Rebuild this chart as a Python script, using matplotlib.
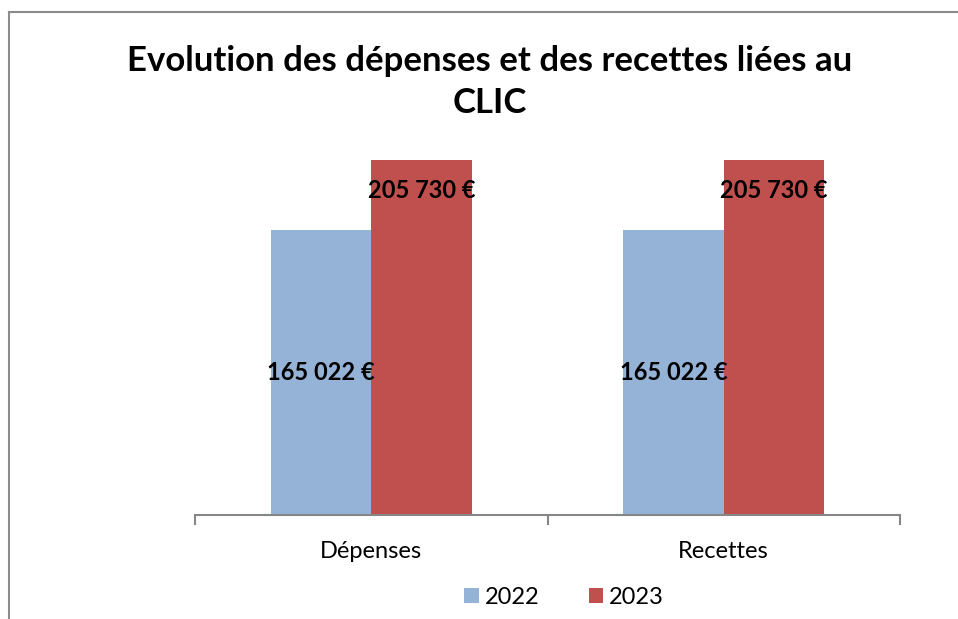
import matplotlib
matplotlib.use("Agg")
import matplotlib.pyplot as plt
from matplotlib.lines import Line2D
from matplotlib.patches import Patch
import numpy as np

categories = ["Dépenses", "Recettes"]
years = ["2022", "2023"]
values_2022 = [165022, 165022]
values_2023 = [205730, 205730]
labels_2022 = ["165 022 €", "165 022 €"]
labels_2023 = ["205 730 €", "205 730 €"]
title = "Evolution des dépenses et des recettes liées au\nCLIC"

c2022 = "#95B3D7"
c2023 = "#C0504D"
grey = "#868686"
font = "Lato"

W, H = 958, 619
fig = plt.figure(figsize=(W / 100, H / 100), dpi=100)
fig.patch.set_facecolor("white")

# outer chart border (only left and top visible in the crop)
fig.add_artist(Line2D([9 / W, 1.0], [1 - 12 / H, 1 - 12 / H], color="#8c8c8c", lw=1.5, transform=fig.transFigure))
fig.add_artist(Line2D([9 / W, 9 / W], [1 - 12 / H, 0], color="#8c8c8c", lw=1.5, transform=fig.transFigure))

ax = fig.add_axes([195 / W, 1 - 515 / H, (900 - 195) / W, 0.697])
x = np.arange(len(categories))
bw = 0.285
ax.bar(x - bw / 2, values_2022, bw, color=c2022, label=years[0])
ax.bar(x + bw / 2, values_2023, bw, color=c2023, label=years[1])

ax.set_xlim(-0.5, len(categories) - 0.5)
ax.set_ylim(0, 250000)

for s in ["left", "right", "top"]:
    ax.spines[s].set_visible(False)
ax.spines["bottom"].set_color(grey)
ax.spines["bottom"].set_linewidth(1.5)
ax.set_yticks([])

ax.set_xticks(np.arange(-0.5, len(categories), 1.0))
ax.set_xticklabels([])
ax.tick_params(axis="x", which="major", direction="out", length=7, width=1.5, color=grey)
ax.set_xticks(x, minor=True)
ax.set_xticklabels(categories, minor=True, fontsize=17, family=font)
ax.tick_params(axis="x", which="minor", length=0, pad=19)

for xi, v, lab in zip(x - bw / 2, values_2022, labels_2022):
    ax.text(xi, v / 2, lab, ha="center", va="center", fontsize=17, fontweight="bold", family=font)
for xi, v, lab in zip(x + bw / 2, values_2023, labels_2023):
    ax.annotate(lab, (xi, v), xytext=(0, -22), textcoords="offset points",
                ha="center", va="center", fontsize=17, fontweight="bold", family=font)

fig.text(490 / W, 1 - 82 / H, title, ha="center", va="center", fontsize=25,
         fontweight="bold", family=font, linespacing=1.42)

handles = [Patch(facecolor=c2022), Patch(facecolor=c2023)]
fig.legend(handles, years, loc="center", bbox_to_anchor=(564 / W, 1 - 597 / H), ncol=2,
           frameon=False, prop={"family": font, "size": 17}, handlelength=0.6,
           handleheight=0.6, handletextpad=0.25, columnspacing=2.1)

fig.savefig("out.png", dpi=100)
